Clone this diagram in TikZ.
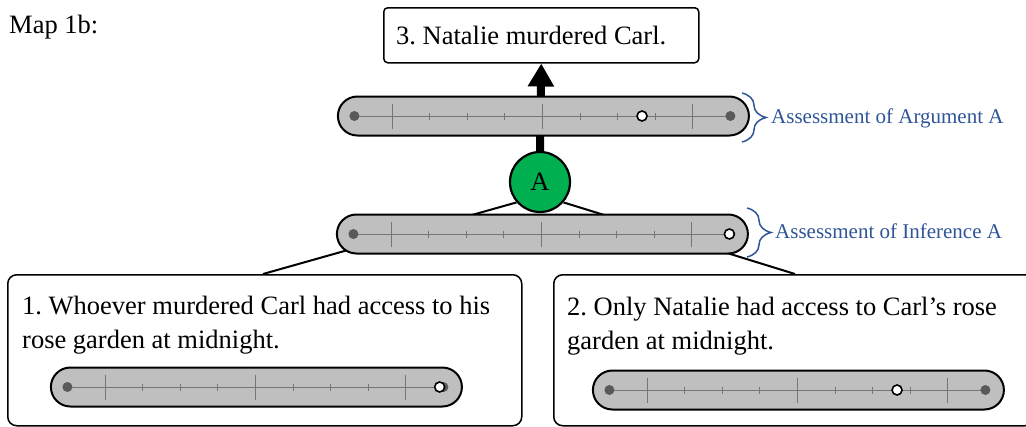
\documentclass[tikz,border=0pt]{standalone}
\usepackage{fontspec}
\setmainfont{Liberation Serif}
\usetikzlibrary{arrows.meta,decorations.pathreplacing}
\definecolor{pillgray}{RGB}{191,191,191}
\definecolor{dotgray}{RGB}{89,89,89}
\definecolor{linegray}{RGB}{118,118,118}
\definecolor{agreen}{RGB}{0,176,80}
\definecolor{lblue}{RGB}{47,85,151}
\pgfdeclarelayer{background}
\pgfsetlayers{background,main}
\frenchspacing
\tikzset{
  pill/.style={rectangle, rounded corners=19.5pt, minimum width=411pt, minimum height=39pt,
    inner sep=0pt, fill=pillgray, draw=black, line width=2pt},
  scaleline/.style={draw=linegray, line width=1pt},
  markerdot/.style={draw=black, fill=white, line width=1.6pt},
  claimbox/.style={rectangle, draw=black, line width=1.5pt, inner sep=0pt, anchor=north west},
  maintext/.style={font=\fontsize{26.5}{34}\selectfont, inner sep=0pt, anchor=base west},
  bluetext/.style={font=\fontsize{21}{25}\selectfont, text=lblue, inner sep=0pt, anchor=base west},
  bluebrace/.style={draw=lblue, line width=1.5pt, decorate, decoration={brace, amplitude=24pt}},
  link/.style={draw=black, line width=2pt},
}
\newcommand\ScaleBar[4]{%
  \node[pill] (#1) at ({#2+4*37.6+1},#3) {};
  \draw[scaleline] ({#2-37.6},#3) -- ({#2+9*37.6},#3);
  \foreach \i in {0,4,8} \draw[scaleline] ({#2+\i*37.6},{#3-12.5}) -- ({#2+\i*37.6},{#3+12.5});
  \foreach \i in {1,2,3,5,6,7} \draw[scaleline] ({#2+\i*37.6},{#3-3.5}) -- ({#2+\i*37.6},{#3+3.5});
  \fill[dotgray] ({#2-37.6},#3) circle[radius=5pt];
  \fill[dotgray] ({#2+9*37.6},#3) circle[radius=5pt];
  \draw[markerdot] ({#2+#4*37.6},#3) circle[radius=5pt];
}
\begin{document}
\begin{tikzpicture}[x=1pt, y=-1pt]
\useasboundingbox (0,0) rectangle (1026,426);
% boxes
\node[claimbox, rounded corners=4pt, minimum width=315pt, minimum height=55pt] (c3) at (383,7) {};
\node[claimbox, rounded corners=9pt, minimum width=514pt, minimum height=151pt] (p1) at (7,274) {};
\node[claimbox, rounded corners=9pt, minimum width=480pt, minimum height=151pt] (p2) at (553,274) {};
% texts
\node[maintext] (maplbl) at (9,33) {Map 1b:};
\node[maintext] (t3) at (396,44) {3. Natalie murdered Carl.};
\node[maintext] (t1a) at (22,314) {1. Whoever murdered Carl had access to his};
\node[maintext] (t1b) at (22,348) {rose garden at midnight.};
\node[maintext] (t2a) at (567,315) {2. Only Natalie had access to Carl’s rose};
\node[maintext] (t2b) at (567,349) {garden at midnight.};
% scales
\ScaleBar{argbar}{392}{116}{6.65}
\ScaleBar{infbar}{391}{234}{9}
\ScaleBar{bar1}{105}{387}{8.9}
\ScaleBar{bar2}{647}{390}{6.65}
% circle node
\node[circle, fill=agreen, draw=black, line width=2.2pt, minimum size=60pt, inner sep=0pt,
  font=\fontsize{26.5}{30}\selectfont] (A) at (540,182) {A};
% connectors (behind the pills)
\coordinate (e1) at (263,274);
\coordinate (e2) at (795,274);
\begin{pgfonlayer}{background}
\draw[link] (A.221) -- (e1);
\draw[link] (A.319) -- (e2);
\draw[line width=8pt, -{Triangle[width=25pt,length=23pt]}] (A.north) -- (c3.south);
\end{pgfonlayer}
% braces and labels
\draw[bluebrace] (742,93) -- (742,142);
\node[bluetext] (lblarg) at (771,123) {Assessment of Argument A};
\draw[bluebrace] (747,208) -- (747,257);
\node[bluetext] (lblinf) at (775,238) {Assessment of Inference A};
\end{tikzpicture}
\end{document}
